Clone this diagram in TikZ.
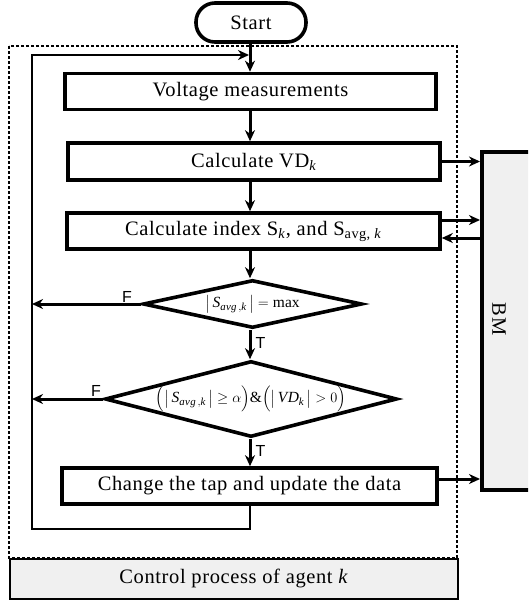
\documentclass[tikz,border=0pt]{standalone}
\usepackage{amsmath}
\usepackage{fontspec}
\setmainfont{Liberation Serif}[LetterSpace=3]
\newfontfamily\lsans{Liberation Sans}
\usetikzlibrary{shapes.geometric,arrows.meta,calc}
\definecolor{panelgray}{HTML}{F0F0F0}
\begin{document}
\begin{tikzpicture}[x=1pt,y=-1pt,
  txt/.style={font=\fontsize{20.5}{22}\selectfont},
  stepbox/.style={draw,line width=3.6pt,inner sep=0pt,minimum height=36pt,txt},
  decision/.style={draw,line width=3.6pt,diamond,inner sep=0pt,font=\fontsize{15.5}{18}\selectfont},
  arr/.style={line width=3pt,-{Stealth[length=11pt,width=10pt,inset=3.5pt]}},
  loopline/.style={line width=2.4pt,-{Stealth[length=11pt,width=10pt,inset=3.5pt]}},
  tf/.style={font=\lsans\fontsize{16}{18}\selectfont,inner sep=1pt}]
\useasboundingbox (0,0) rectangle (528,603);
\clip (0,0) rectangle (528,603);
% dashed agent frame and caption panel
\draw[line width=1.4pt,dash pattern=on 3pt off 2pt] (9,46) rectangle (457,558);
\node[draw,line width=1.8pt,fill=panelgray,minimum width=448pt,minimum height=40pt,inner sep=0pt,anchor=north west,txt] (cp) at (9,558) {Control process of agent \textit{k}};
% BM panel
\node[draw,line width=3.6pt,fill=panelgray,minimum width=90pt,minimum height=338pt,inner sep=0pt,anchor=north west] (bm) at (480,150) {};
\node[rotate=-90,txt] (bmt) at (499,319) {BM};
% flow nodes
\coordinate (ax) at (250,0);
\node[draw,line width=3.6pt,rounded corners=19pt,minimum width=110pt,minimum height=39pt,inner sep=0pt,txt] (start) at (251,22.5) {Start};
\node[stepbox,minimum width=371pt] (vm) at (250.5,91.5) {Voltage measurements};
\node[stepbox,minimum width=372pt,minimum height=37pt] (vd) at (254,161.5) {Calculate VD\textsubscript{\textit{k}}};
\node[stepbox,minimum width=373pt] (idx) at (253.5,231) {Calculate index S\textsubscript{\textit{k}}, and S\textsubscript{avg, \textit{k}}};
\node[decision,minimum width=219pt,minimum height=48pt,aspect=4.5] (d1) at (252.5,304) {$\bigl|\mkern3mu\textit{S}_{\textit{avg}\,,\textit{k}}\mkern3mu\bigr| = \mathrm{max}$};
\node[decision,minimum width=292pt,minimum height=76pt,aspect=3.84] (d2) at (251,399) {$\Bigl(\bigl|\mkern3mu\textit{S}_{\textit{avg}\,,\textit{k}}\mkern3mu\bigr|\geq\alpha\Bigr)\mathrm{\&}\Bigl(\bigl|\mkern3mu\textit{VD}_{\textit{k}}\mkern3mu\bigr|>0\Bigr)$};
\node[stepbox,minimum width=375pt] (ch) at (249.5,486) {Change the tap and update the data};
% loop coordinates
\coordinate (lb) at (32,529);
\coordinate (join) at (249,55);
% BM link anchors
\coordinate (i1) at ($(idx.east)+(0,-11)$);
\coordinate (i2) at ($(idx.east)+(0,7)$);
\coordinate (c1) at ($(ch.east)+(0,-7)$);
% main connectors
\draw[arr] (start.south -| ax) -- (vm.north -| ax);
\draw[arr] (vm.south -| ax) -- (vd.north -| ax);
\draw[arr] (vd.south -| ax) -- (idx.north -| ax);
\draw[arr] (idx.south -| ax) -- (d1.north -| ax);
\draw[arr] (d1.south -| ax) -- (d2.north -| ax) node[tf,pos=0.45,anchor=west,xshift=3pt] (t1) {T};
\draw[arr] (d2.south -| ax) -- (ch.north -| ax) node[tf,pos=0.45,anchor=west,xshift=3pt] (t2) {T};
\draw[loopline] (ch.south -| ax) |- (lb) |- (join);
\draw[arr] (d1.west) -- (d1.west -| lb);
\node[tf,anchor=south] (f1) at (127,303.5) {F};
\draw[arr] (d2.west) -- (d2.west -| lb);
\node[tf,anchor=south] (f2) at (96,397.5) {F};
% BM links
\draw[arr] (vd.east) -- (vd.east -| bm.west);
\draw[arr] (i1) -- (i1 -| bm.west);
\draw[arr] (i2 -| bm.west) -- (i2);
\draw[arr] (c1) -- (c1 -| bm.west);
\end{tikzpicture}
\end{document}
